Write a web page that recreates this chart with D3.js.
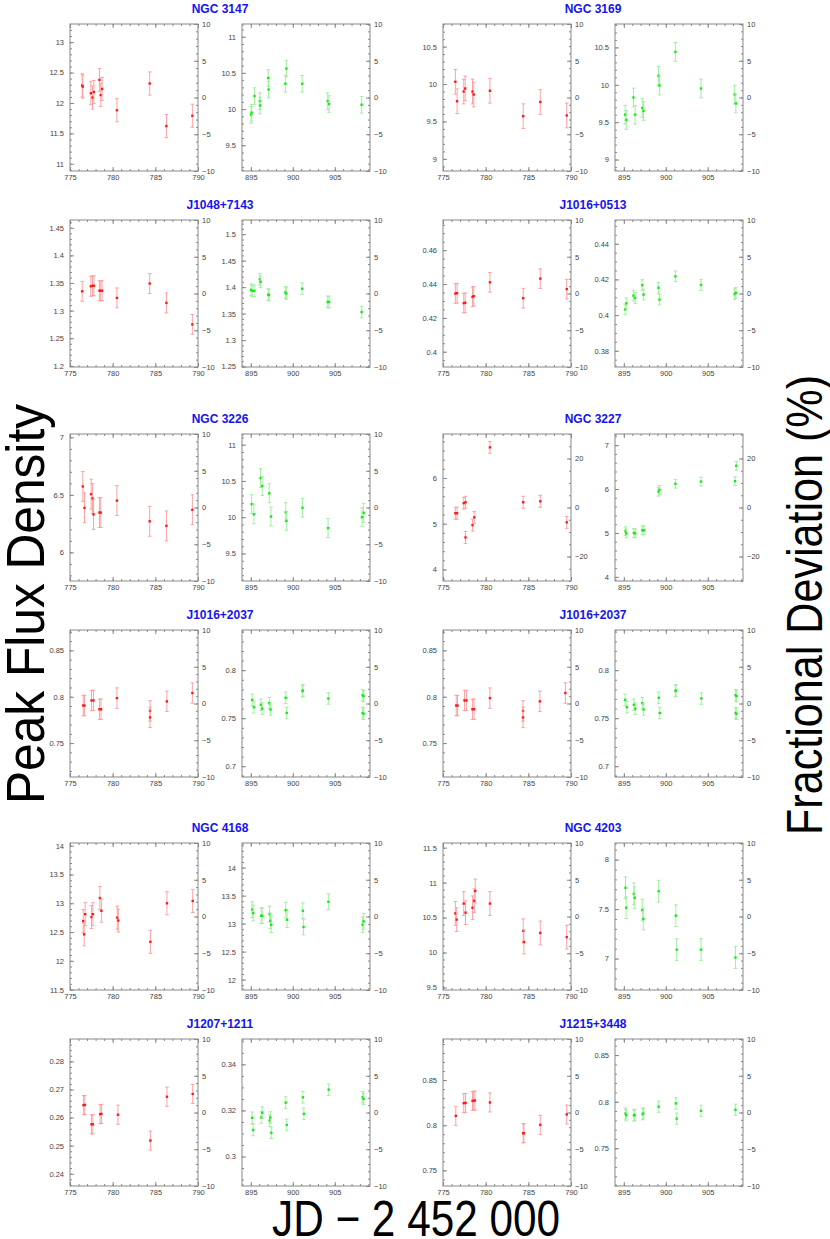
<!DOCTYPE html>
<html>

<head>
    <meta charset="utf-8">
    <title>Peak flux density light curves</title>
    <style>
        body {
            margin: 0;
            font-family: "Liberation Sans", Helvetica, Arial, sans-serif;
        }

        .tick text {
            font-size: 7.5px;
            fill: #444;
        }
    </style>
    <script src="https://d3js.org/d3.v7.min.js"></script>
</head>

<body>
    <svg width="830" height="1239"></svg>

    <script>

        // source names, in reading order (left to right, top to bottom)
        var names = ["NGC 3147", "NGC 3169", "J1048+7143", "J1016+0513", "NGC 3226", "NGC 3227",
            "J1016+2037", "J1016+2037", "NGC 4168", "NGC 4203", "J1207+1211", "J1215+3448"];

        // [JD - 2452000, peak flux] : first epoch (red) and second epoch (green)
        var n3147A = [[776.43, 12.29], [776.5, 12.27], [777.44, 12.16], [777.64, 12.09], [777.8, 12.18], [778.45, 12.38], [778.6, 12.13], [778.76, 12.23], [780.5, 11.88], [784.34, 12.32], [786.3, 11.62], [789.34, 11.79]];
        var n3147B = [[895.04, 9.92], [895.1, 9.95], [895.44, 10.18], [896.08, 10.11], [896.1, 10.05], [897.08, 10.43], [897.12, 10.27], [899.12, 10.35], [899.24, 10.56], [901.12, 10.35], [904.16, 10.11], [904.32, 10.07], [908.2, 10.06]];
        var n3169A = [[776.45, 10.03], [776.65, 9.77], [777.43, 9.90], [777.6, 9.94], [778.46, 9.90], [778.6, 9.86], [780.5, 9.91], [784.4, 9.57], [786.4, 9.76], [789.5, 9.58]];
        var n3169B = [[895.16, 9.60], [895.3, 9.53], [896.15, 9.83], [896.35, 9.60], [897.2, 9.69], [897.35, 9.65], [899.13, 10.12], [899.25, 9.99], [901.15, 10.44], [904.2, 9.95], [908.2, 9.87], [908.35, 9.75]];
        var j1048A = [[776.43, 1.335], [777.44, 1.344], [777.64, 1.345], [777.8, 1.345], [778.45, 1.336], [778.6, 1.336], [778.76, 1.336], [780.5, 1.323], [784.34, 1.349], [786.3, 1.314], [789.34, 1.275]];
        var j1048B = [[895.04, 1.395], [895.16, 1.393], [895.4, 1.393], [896.08, 1.415], [896.16, 1.41], [897.08, 1.386], [897.16, 1.385], [899.12, 1.39], [899.24, 1.388], [901.12, 1.397], [904.16, 1.372], [904.32, 1.372], [908.2, 1.353]];
        var j0513A = [[776.45, 0.4344], [776.65, 0.4346], [777.43, 0.4287], [777.6, 0.4289], [778.46, 0.4324], [778.6, 0.4328], [780.5, 0.441], [784.4, 0.4316], [786.4, 0.4432], [789.5, 0.437]];
        var j0513B = [[895.16, 0.4032], [895.3, 0.4066], [896.15, 0.4109], [896.35, 0.4096], [897.2, 0.4168], [897.35, 0.4115], [899.13, 0.4153], [899.25, 0.4087], [901.15, 0.4217], [904.2, 0.4169], [908.2, 0.4117], [908.35, 0.4125]];
        var n3226A = [[776.5, 6.573], [776.7, 6.387], [777.48, 6.506], [777.64, 6.468], [777.76, 6.33], [778.45, 6.346], [778.6, 6.346], [780.5, 6.45], [784.34, 6.27], [786.3, 6.23], [789.34, 6.37]];
        var n3226B = [[895.1, 10.18], [895.36, 10.04], [896.16, 10.54], [896.36, 10.43], [897.2, 10.33], [897.4, 10.01], [899.16, 10.07], [899.24, 9.95], [901.16, 10.13], [904.2, 9.85], [908.24, 10.0], [908.44, 10.06]];
        var n3227A = [[776.45, 5.23], [776.65, 5.23], [777.43, 5.45], [777.64, 5.47], [777.64, 4.70], [778.46, 4.97], [778.66, 5.14], [780.5, 6.67], [784.4, 5.47], [786.4, 5.49], [789.5, 5.03]];
        var n3227B = [[895.2, 5.04], [895.3, 4.99], [896.2, 5.0], [896.35, 4.99], [897.2, 5.06], [897.4, 5.06], [899.13, 5.94], [899.25, 5.98], [901.15, 6.12], [904.2, 6.17], [908.25, 6.18], [908.4, 6.53]];
        var j2037A = [[776.55, 0.7905], [776.7, 0.7905], [777.52, 0.796], [777.75, 0.796], [778.45, 0.7865], [778.64, 0.7865], [780.5, 0.7985], [784.38, 0.7847], [784.38, 0.7777], [786.35, 0.795], [789.34, 0.804]];
        var j2037B = [[895.16, 0.7691], [895.36, 0.7614], [896.2, 0.7639], [896.36, 0.76], [897.2, 0.7656], [897.36, 0.759], [899.16, 0.7712], [899.28, 0.7554], [901.16, 0.7782], [901.2, 0.7788], [904.24, 0.7705], [908.32, 0.774], [908.44, 0.773], [908.32, 0.7554], [908.44, 0.7547]];
        var n4168A = [[776.55, 12.69], [776.66, 12.46], [776.78, 12.81], [777.52, 12.76], [777.68, 12.81], [778.5, 13.09], [778.68, 12.87], [780.54, 12.75], [780.66, 12.7], [784.42, 12.33], [786.36, 13.0], [789.38, 13.04]];
        var n4168B = [[895.16, 13.25], [895.28, 13.19], [896.24, 13.14], [896.36, 13.14], [897.24, 13.17], [897.32, 13.05], [897.44, 12.98], [899.16, 13.24], [899.32, 13.07], [901.2, 13.23], [901.28, 12.94], [904.24, 13.39], [908.32, 12.98], [908.44, 13.04]];
        var n4203A = [[776.45, 10.56], [776.6, 10.47], [777.43, 10.7], [777.64, 10.57], [778.46, 10.64], [778.66, 10.74], [778.78, 10.88], [780.5, 10.7], [784.4, 10.31], [784.48, 10.15], [786.4, 10.28], [789.5, 10.22]];
        var n4203B = [[895.2, 7.715], [895.28, 7.514], [896.2, 7.654], [896.3, 7.614], [897.2, 7.49], [897.33, 7.4], [899.15, 7.68], [901.2, 7.433], [901.3, 7.09], [904.2, 7.09], [908.3, 7.01]];
        var j1207A = [[776.59, 0.2644], [776.74, 0.2645], [777.52, 0.2576], [777.68, 0.2576], [778.53, 0.2612], [778.68, 0.2613], [780.62, 0.2610], [784.42, 0.2518], [786.36, 0.2674], [789.38, 0.2684]];
        var j1207B = [[895.16, 0.3168], [895.28, 0.3115], [896.24, 0.3169], [896.36, 0.319], [897.24, 0.3156], [897.32, 0.3169], [897.44, 0.3103], [899.16, 0.3234], [899.28, 0.3137], [901.2, 0.3257], [901.32, 0.3185], [904.28, 0.329], [908.32, 0.3257], [908.44, 0.325]];
        var j1215A = [[776.5, 0.8104], [777.43, 0.8244], [777.64, 0.8248], [778.46, 0.827], [778.6, 0.827], [778.74, 0.8274], [780.5, 0.8252], [784.4, 0.7911], [784.48, 0.7911], [786.4, 0.8004], [789.5, 0.8119]];
        var j1215B = [[895.2, 0.7873], [895.28, 0.7855], [896.2, 0.7851], [896.3, 0.7858], [897.24, 0.7866], [897.32, 0.7873], [899.15, 0.7946], [901.2, 0.7982], [901.3, 0.7818], [904.2, 0.7902], [908.3, 0.7913]];

        var seriesA = [n3147A, n3169A, j1048A, j0513A, n3226A, n3227A, j2037A, j2037A, n4168A, n4203A, j1207A, j1215A];
        var seriesB = [n3147B, n3169B, j1048B, j0513B, n3226B, n3227B, j2037B, j2037B, n4168B, n4203B, j1207B, j1215B];

        // mean flux of each epoch (zero of the fractional deviation axis)
        var meanA = [12.09, 9.82, 1.331, 0.4344, 6.39, 5.355, 0.7927, 0.7927, 12.77, 10.515, 0.2618, 0.8141];
        var meanB = [10.16, 9.83, 1.388, 0.4121, 10.134, 5.58, 0.7653, 0.7653, 13.127, 7.425, 0.3191, 0.7884];
        // typical 1-sigma error of each epoch
        var errA = [0.19, 0.165, 0.018, 0.0058, 0.13, 0.13, 0.011, 0.011, 0.2, 0.17, 0.0034, 0.0105];
        var errB = [0.115, 0.125, 0.011, 0.003, 0.13, 0.1, 0.006, 0.006, 0.14, 0.11, 0.0025, 0.006];
        // fractional deviation axis half range (%)
        var devRange = [10, 10, 10, 10, 10, 30, 10, 10, 10, 10, 10, 10];
        // tick steps of the flux axes
        var majorA = [0.5, 0.5, 0.05, 0.02, 0.5, 1, 0.05, 0.05, 0.5, 0.5, 0.01, 0.05];
        var majorB = [0.5, 0.5, 0.05, 0.02, 0.5, 1, 0.05, 0.05, 0.5, 0.5, 0.02, 0.05];

        var jdA = [775, 790], jdB = [893.95, 909.2];

        var svg = d3.select("svg");

        var colX = [70, 443];
        var rowY = [24, 220, 434, 630, 843, 1039];
        var pw = 128, ph = 147, gapB = 172;

        function stepTicks(lo, hi, step) {
            var out = [];
            for (var k = Math.ceil(lo / step - 1e-6); k * step <= hi + 1e-9; k++) {
                out.push(+(k * step).toFixed(6));
            }
            return out;
        }

        var fmt = d3.format("~g");

        function drawPanel(g, data, mean, err, dev, major, jd, col, light) {
            var lo = mean * (1 - dev / 100), hi = mean * (1 + dev / 100);
            var x = d3.scaleLinear().domain(jd).range([0, pw]);
            var y = d3.scaleLinear().domain([lo, hi]).range([ph, 0]);
            var yd = d3.scaleLinear().domain([-dev, dev]).range([ph, 0]);

            var minorY = major / (major == 0.02 ? 4 : 5);
            var xMaj = stepTicks(jd[0], jd[1], 5), xMin = stepTicks(jd[0], jd[1], 1);
            var dMaj = dev == 30 ? 20 : 5, dMin = dev == 30 ? 5 : 1;

            function add(axis, tx, ty) {
                var a = g.append("g").attr("transform", "translate(" + tx + "," + ty + ")").call(axis);
                a.select(".domain").remove();
                a.selectAll(".tick line").attr("stroke", "#888");
                return a;
            }
            add(d3.axisLeft(y).tickValues(stepTicks(lo, hi, minorY)).tickSize(-2).tickFormat(""), 0, 0);
            add(d3.axisLeft(y).tickValues(stepTicks(lo, hi, major)).tickSize(-4).tickPadding(6).tickFormat(fmt), 0, 0);
            add(d3.axisRight(yd).tickValues(stepTicks(-dev, dev, dMin)).tickSize(-2).tickFormat(""), pw, 0);
            add(d3.axisRight(yd).tickValues(stepTicks(-dev, dev, dMaj)).tickSize(-4).tickPadding(4).tickFormat(d3.format("d")), pw, 0);
            add(d3.axisBottom(x).tickValues(xMin).tickSize(-2).tickFormat(""), 0, ph);
            add(d3.axisBottom(x).tickValues(xMaj).tickSize(-4).tickPadding(3.5).tickFormat(d3.format("d")), 0, ph);
            add(d3.axisTop(x).tickValues(xMin).tickSize(-2).tickFormat(""), 0, 0);
            add(d3.axisTop(x).tickValues(xMaj).tickSize(-4).tickFormat(""), 0, 0);

            g.append("rect").attr("width", pw).attr("height", ph)
                .attr("fill", "none").attr("stroke", "#888").attr("stroke-width", 1);

            var pts = g.selectAll(".pt").data(data).enter().append("g")
                .attr("transform", function (d) { return "translate(" + x(d[0]) + ",0)"; });
            pts.append("path")
                .attr("d", function (d) {
                    var t = y(d[1] + err), b = y(d[1] - err);
                    return "M0," + t + "V" + b + "M-1.8," + t + "H1.8M-1.8," + b + "H1.8";
                })
                .attr("stroke", light).attr("stroke-width", 0.9).attr("fill", "none");
            pts.append("rect")
                .attr("x", -1.2).attr("y", function (d) { return y(d[1]) - 1.2; })
                .attr("width", 2.4).attr("height", 2.4).attr("fill", col);
        }

        names.forEach(function (name, i) {
            var cx = colX[i % 2], ty = rowY[Math.floor(i / 2)];
            var gA = svg.append("g").attr("transform", "translate(" + cx + "," + ty + ")");
            var gB = svg.append("g").attr("transform", "translate(" + (cx + gapB) + "," + ty + ")");
            drawPanel(gA, seriesA[i], meanA[i], errA[i], devRange[i], majorA[i], jdA, "#ff1a1a", "#fb9a9a");
            drawPanel(gB, seriesB[i], meanB[i], errB[i], devRange[i], majorB[i], jdB, "#11ee11", "#9ceb9c");

            svg.append("text")
                .attr("x", cx + (gapB + pw) / 2).attr("y", ty - 11)
                .attr("text-anchor", "middle")
                .attr("font-size", 12).attr("font-weight", "bold")
                .attr("fill", "#1414f0")
                .text(name);
        });

        svg.append("text")
            .attr("transform", "translate(44,604) rotate(-90)")
            .attr("text-anchor", "middle")
            .attr("font-size", 54)
            .attr("textLength", 400).attr("lengthAdjust", "spacingAndGlyphs")
            .text("Peak Flux Density");

        svg.append("text")
            .attr("transform", "translate(822,605) rotate(-90)")
            .attr("text-anchor", "middle")
            .attr("font-size", 50)
            .attr("textLength", 460).attr("lengthAdjust", "spacingAndGlyphs")
            .text("Fractional Deviation (%)");

        svg.append("text")
            .attr("x", 416).attr("y", 1236)
            .attr("text-anchor", "middle")
            .attr("font-size", 50)
            .attr("textLength", 288).attr("lengthAdjust", "spacingAndGlyphs")
            .text("JD \u2212 2 452 000");

    </script>

</body>

</html>
